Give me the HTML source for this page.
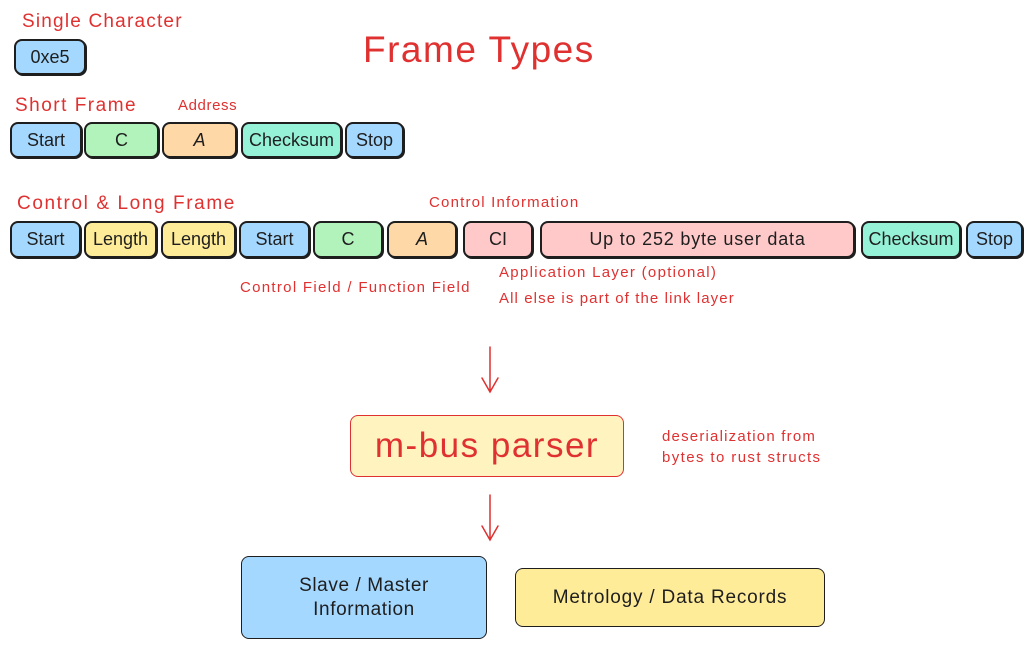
<!DOCTYPE html>
<html><head><meta charset="utf-8"><style>
body{margin:0;width:1034px;height:650px;background:#fff;position:relative;overflow:hidden;font-family:"Comic Sans MS","Liberation Sans",sans-serif}
.t{position:absolute;color:#e03131;white-space:nowrap;line-height:1;letter-spacing:0.6px}
.b{position:absolute;box-sizing:border-box;border:2.5px solid #1e1e1e;border-radius:8px;display:flex;align-items:center;justify-content:center;font-size:18px;color:#1e1e1e;box-shadow:1px 1px 0 #1e1e1e}
.bl{background:#a5d8ff}.gr{background:#b2f2bb}.or{background:#ffd8a8}.te{background:#96f2d7}.ye{background:#ffec99}.pk{background:#ffc9c9}
</style></head><body>
<div class="t" style="left:22px;top:12px;font-size:19px;letter-spacing:1.2px">Single Character</div>
<div class="b bl" style="left:14px;top:39px;width:72px;height:36px">0xe5</div>
<div class="t" style="left:363px;top:31px;font-size:37px;letter-spacing:1.5px">Frame Types</div>
<div class="t" style="left:15px;top:96px;font-size:19px;letter-spacing:1.5px">Short Frame</div>
<div class="t" style="left:178px;top:98px;font-size:15px">Address</div>
<div class="b bl" style="left:10px;top:122px;width:72px;height:36px">Start</div>
<div class="b gr" style="left:84px;top:122px;width:75px;height:36px">C</div>
<div class="b or" style="left:162px;top:122px;width:75px;height:36px"><i>A</i></div>
<div class="b te" style="left:241px;top:122px;width:101px;height:36px">Checksum</div>
<div class="b bl" style="left:345px;top:122px;width:59px;height:36px">Stop</div>
<div class="t" style="left:17px;top:194px;font-size:19px;letter-spacing:1.6px">Control &amp; Long Frame</div>
<div class="t" style="left:429px;top:195px;font-size:15px;letter-spacing:1.2px">Control Information</div>
<div class="b bl" style="left:10px;top:221px;width:71px;height:37px">Start</div>
<div class="b ye" style="left:84px;top:221px;width:73px;height:37px">Length</div>
<div class="b ye" style="left:161px;top:221px;width:75px;height:37px">Length</div>
<div class="b bl" style="left:239px;top:221px;width:71px;height:37px">Start</div>
<div class="b gr" style="left:313px;top:221px;width:70px;height:37px">C</div>
<div class="b or" style="left:387px;top:221px;width:70px;height:37px"><i>A</i></div>
<div class="b pk" style="left:463px;top:221px;width:70px;height:37px">CI</div>
<div class="b pk" style="left:540px;top:221px;width:315px;height:37px;letter-spacing:0.8px">Up to 252 byte user data</div>
<div class="b te" style="left:861px;top:221px;width:100px;height:37px">Checksum</div>
<div class="b bl" style="left:966px;top:221px;width:57px;height:37px">Stop</div>
<div class="t" style="left:240px;top:280px;font-size:15px;letter-spacing:1.3px">Control Field / Function Field</div>
<div class="t" style="left:499px;top:265px;font-size:15px;letter-spacing:1.3px">Application Layer (optional)</div>
<div class="t" style="left:499px;top:291px;font-size:15px;letter-spacing:1.1px">All else is part of the link layer</div>
<svg style="position:absolute;left:0;top:0" width="1034" height="650">
<g stroke="#e03131" stroke-width="1.5" fill="none" stroke-linecap="round">
<path d="M490 347 L490 392 M482 378 L490 392 L498 378"/>
<path d="M490 495 L490 540 M482 526 L490 540 L498 526"/>
</g></svg>
<div class="b" style="left:350px;top:415px;width:274px;height:62px;background:#fff3bf;border-color:#e03131;border-width:1.5px;box-shadow:none;color:#e03131;font-size:35px;letter-spacing:1.5px">m-bus parser</div>
<div class="t" style="left:662px;top:429px;font-size:15px;letter-spacing:1.2px">deserialization from</div>
<div class="t" style="left:662px;top:450px;font-size:15px;letter-spacing:1.4px">bytes to rust structs</div>
<div class="b bl" style="left:241px;top:556px;width:246px;height:83px;border-width:1.5px;box-shadow:none;text-align:center;line-height:24px;font-size:19px;letter-spacing:0.6px">Slave / Master<br>Information</div>
<div class="b ye" style="left:515px;top:568px;width:310px;height:59px;border-width:1.5px;box-shadow:none;font-size:19px;letter-spacing:0.8px">Metrology / Data Records</div>
</body></html>
